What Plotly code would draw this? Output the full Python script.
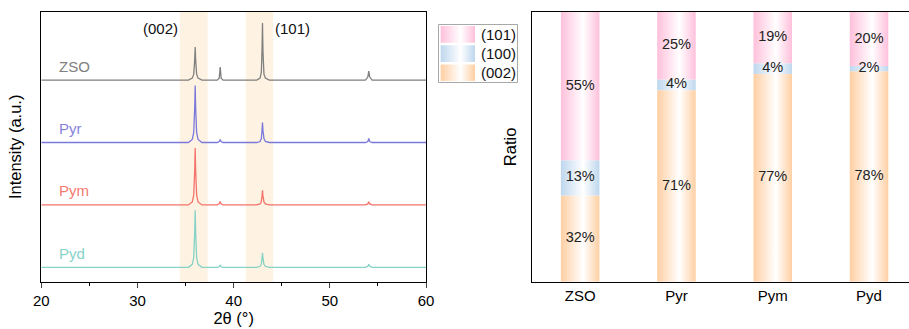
import plotly.graph_objects as go

# ---------------- DATA ----------------
# XRD patterns (left panel): 2theta grid and intensity above each baseline (a.u.)
TWO_THETA = [20, 35.3, 35.7, 35.85, 35.95, 36.0, 36.05, 36.15, 36.3, 36.7,
             38.3, 38.5, 38.6, 38.7, 38.9,
             42.4, 42.75, 42.88, 42.95, 43.0, 43.05, 43.15, 43.3, 43.7,
             53.7, 53.95, 54.05, 54.15, 54.4, 60]
ZSO_I = [0, 0, 2, 6, 20, 33, 20, 6, 2, 0,
         0, 2, 13, 2, 0,
         0, 2, 8, 30, 57, 28, 6, 2, 0,
         0, 3, 9, 3, 0, 0]
PYR_I = [0, 0, 3, 10, 35, 57, 35, 10, 3, 0,
         0, 1, 3, 1, 0,
         0, 1, 4, 12, 20, 12, 4, 1, 0,
         0, 1, 4, 1, 0, 0]
PYM_I = [0, 0, 3, 10, 35, 57, 35, 10, 3, 0,
         0, 1, 3.5, 1, 0,
         0, 1, 3, 9, 14.5, 9, 3, 1, 0,
         0, 1, 3, 1, 0, 0]
PYD_I = [0, 0, 3, 10, 35, 57, 35, 10, 3, 0,
         0, 0.5, 2, 0.5, 0,
         0, 1, 3, 9, 14.5, 9, 3, 1, 0,
         0, 1, 3, 1, 0, 0]
SAMPLES = ["ZSO", "Pyr", "Pym", "Pyd"]
PATTERNS = [ZSO_I, PYR_I, PYM_I, PYD_I]
BAND_RANGES = [(34.4, 37.3), (41.25, 44.1)]
PEAK_LABELS = ["(002)", "(101)"]

# Texture ratio (right panel), percent
PHASES = ["(002)", "(100)", "(101)"]
RATIO_002 = [32, 71, 77, 78]
RATIO_100 = [13, 4, 4, 2]
RATIO_101 = [55, 25, 19, 20]
RATIOS = [RATIO_002, RATIO_100, RATIO_101]

# ---------------- STYLE ----------------
FONT = "Arial, 'Liberation Sans', sans-serif"
W, H = 909, 329
LINE_COLORS = ["#7f7f7f", "#7b78dc", "#f4736b", "#85d2c7"]
LABEL_COLORS = ["#808080", "#8683dc", "#f47a70", "#86d3c9"]
PHASE_COLORS = ["#ffcfa3", "#bed7ee", "#ffc0db"]
BAND_COLOR = "#fef3e2"
BASE0 = 14.4
STEP = 62.4
BAR_W = 0.40

def px_x(p):
    return p / W

def px_y(p):
    return (H - p) / H

fig = go.Figure()

# ---- left panel: XRD ----
n = len(SAMPLES)
for k, (name, pat) in enumerate(zip(SAMPLES, PATTERNS)):
    off = BASE0 + STEP * (n - 1 - k)
    fig.add_trace(go.Scatter(
        x=TWO_THETA, y=[v + off for v in pat], mode="lines",
        line=dict(color=LINE_COLORS[k], width=1.3),
        xaxis="x", yaxis="y", showlegend=False, hoverinfo="skip"))
    fig.add_annotation(x=21.6, y=off + 14, xref="x", yref="y", text=name,
                       showarrow=False, xanchor="left", yanchor="middle",
                       font=dict(family=FONT, size=15, color=LABEL_COLORS[k]))

for (a, b) in BAND_RANGES:
    fig.add_shape(type="rect", xref="x", yref="y domain", x0=a, x1=b, y0=0, y1=1,
                  fillcolor=BAND_COLOR, line=dict(width=0), layer="below")

fig.add_annotation(x=32.4, y=253.7, xref="x", yref="y", text=PEAK_LABELS[0],
                   showarrow=False, font=dict(family=FONT, size=15, color="#111"))
fig.add_annotation(x=46.1, y=253.7, xref="x", yref="y", text=PEAK_LABELS[1],
                   showarrow=False, font=dict(family=FONT, size=15, color="#111"))

# ---- right panel: gradient stacked bars ----
def grad(c):
    return dict(type="horizontal", colorscale=[[0, c], [0.58, "#ffffff"], [1, c]])

txt_x, txt_y, txt_s = [], [], []
for i in range(len(SAMPLES)):
    cum = 0
    for j, vals in enumerate(RATIOS):
        v = vals[i]
        x0, x1 = i - BAR_W / 2, i + BAR_W / 2
        y0, y1 = cum, cum + v
        fig.add_trace(go.Scatter(
            x=[x0, x1, x1, x0, x0], y=[y0, y0, y1, y1, y0],
            mode="none", fill="toself", fillgradient=grad(PHASE_COLORS[j]),
            xaxis="x2", yaxis="y2", showlegend=False, hoverinfo="skip"))
        txt_x.append(i)
        txt_y.append((y0 + y1) / 2)
        txt_s.append(f"{v}%")
        cum = y1

fig.add_trace(go.Scatter(x=txt_x, y=txt_y, text=txt_s, mode="text",
                         textfont=dict(family=FONT, size=14.5, color="#222"),
                         xaxis="x2", yaxis="y2", showlegend=False,
                         hoverinfo="skip", cliponaxis=False))

# ---- custom legend (gradient swatches) ----
LEG_X0, LEG_X1, LEG_Y0, LEG_Y1 = 438, 518, 24, 83
rows = list(reversed(range(len(PHASES))))  # (101) on top
for r, j in enumerate(rows):
    ya = 26 + r * 19.2
    yb = ya + 16.7
    fig.add_trace(go.Scatter(
        x=[440.7, 475, 475, 440.7, 440.7], y=[ya, ya, yb, yb, ya],
        mode="none", fill="toself", fillgradient=grad(PHASE_COLORS[j]),
        xaxis="x3", yaxis="y3", showlegend=False, hoverinfo="skip"))
    fig.add_annotation(x=478.5, y=(ya + yb) / 2, xref="x3", yref="y3",
                       text=PHASES[j], showarrow=False, xanchor="left",
                       yanchor="middle",
                       font=dict(family=FONT, size=15, color="#111"))
fig.add_shape(type="rect", xref="x3", yref="y3", x0=LEG_X0 + 0.5, x1=LEG_X1 - 0.5,
              y0=LEG_Y0 + 0.5, y1=LEG_Y1 - 0.5, line=dict(color="#a8a8a8", width=1),
              fillcolor="rgba(0,0,0,0)")

ydom = [px_y(281.7), px_y(12)]
axis_common = dict(showgrid=False, zeroline=False, showline=True, linecolor="black",
                   linewidth=1.3, automargin=False)
fig.update_layout(
    width=W, height=H, margin=dict(l=0, r=0, t=0, b=0),
    paper_bgcolor="white", plot_bgcolor="rgba(0,0,0,0)",
    font=dict(family=FONT, size=15, color="black"),
    xaxis=dict(domain=[px_x(41.3), px_x(426)], range=[20, 60], anchor="y",
               mirror=True, ticks="outside", ticklen=5, tickwidth=1.3,
               tick0=20, dtick=10,
               minor=dict(ticks="outside", ticklen=3, tickwidth=1.3, dtick=5,
                          tick0=20, tickcolor="black"),
               tickfont=dict(size=15),
               title=dict(text="2θ (°)", font=dict(size=16.5), standoff=4),
               **axis_common),
    yaxis=dict(domain=ydom, range=[0, 269.7], anchor="x", mirror=True,
               ticks="", showticklabels=False,
               title=dict(text="Intensity (a.u.)", font=dict(size=16.5), standoff=14),
               **axis_common),
    xaxis2=dict(domain=[px_x(532), 1], range=[-0.5, 3.415], anchor="y2",
                mirror=True, ticks="", tickvals=list(range(len(SAMPLES))),
                ticktext=SAMPLES, tickfont=dict(size=15), **axis_common),
    yaxis2=dict(domain=ydom, range=[0, 100], anchor="x2", mirror=False,
                ticks="", showticklabels=False,
                title=dict(text="Ratio", font=dict(size=16.5), standoff=10),
                **axis_common),
    xaxis3=dict(domain=[px_x(LEG_X0), px_x(LEG_X1)], range=[LEG_X0, LEG_X1],
                anchor="y3", visible=False, fixedrange=True),
    yaxis3=dict(domain=[px_y(LEG_Y1), px_y(LEG_Y0)], range=[LEG_Y1, LEG_Y0],
                anchor="x3", visible=False, fixedrange=True),
)

fig.write_html("out.html")
